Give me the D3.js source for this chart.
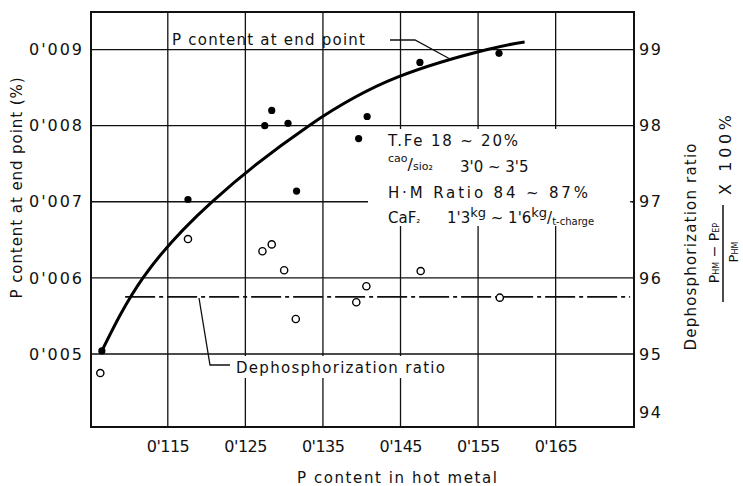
<!DOCTYPE html>
<html><head><meta charset="utf-8">
<script src="https://cdn.jsdelivr.net/npm/d3@7"></script>
<style>body{margin:0;background:#fff} svg{display:block}</style>
</head><body><svg id="c" width="743" height="486"></svg>
<script>
const xTicks = [0.115,0.125,0.135,0.145,0.155,0.165];
const xTickLabels = ["0'115","0'125","0'135","0'145","0'155","0'165"];
const yLeftTicks = [0.005,0.006,0.007,0.008,0.009];
const yLeftTickLabels = ["0'005","0'006","0'007","0'008","0'009"];
const yRightTicks = [94,95,96,97,98,99];
const yRightTickLabels = ["94","95","96","97","98","99"];

const endPointX = [0.1065,0.1176,0.1275,0.1284,0.1305,0.1316,0.1396,0.1407,0.1475,0.1577];
const endPointP = [0.00504,0.00703,0.00800,0.00820,0.00803,0.00714,0.00783,0.00812,0.00883,0.00895];
const dephosX = [0.1063,0.1176,0.1272,0.1284,0.1300,0.1315,0.1393,0.1406,0.1476,0.1578];
const dephosRatio = [94.75,96.51,96.35,96.44,96.10,95.46,95.68,95.89,96.09,95.74];
const curveX = [0.1065,0.1118,0.1207,0.1332,0.1447,0.1562,0.1610];
const curveP = [0.00504,0.00600,0.00700,0.00800,0.00864,0.00900,0.00910];
const avgRatioX = [0.1095,0.1746];
const avgRatio = [95.75,95.75];

const FONT = "DejaVu Sans, sans-serif";
const svg = d3.select("#c");
const m = {l:91, t:12, r:634, b:427};
const x = d3.scaleLinear().domain([0.1051,0.1751]).range([m.l,m.r]);
const yL = d3.scaleLinear().domain([0.004041,0.009493]).range([m.b,m.t]);
const yR = d3.scaleLinear().domain([94.041,99.493]).range([m.b,m.t]);

const grid = svg.append("g").attr("stroke","#111").attr("stroke-width",1.3);
grid.selectAll("line.h").data(yLeftTicks).join("line")
  .attr("x1",m.l).attr("x2",m.r).attr("y1",d=>yL(d)).attr("y2",d=>yL(d));
grid.selectAll("line.v").data(xTicks).join("line")
  .attr("y1",m.t).attr("y2",m.b).attr("x1",d=>x(d)).attr("x2",d=>x(d));

// white areas behind annotations
svg.append("rect").attr("x",368).attr("y",129).attr("width",264).attr("height",97).attr("fill","#fff");
svg.append("rect").attr("x",232).attr("y",356).attr("width",218).attr("height",22).attr("fill","#fff");

// short right tick at 97
svg.append("line").attr("x1",m.r-4).attr("x2",m.r).attr("y1",yR(97)).attr("y2",yR(97)).attr("stroke","#111").attr("stroke-width",1.3);

// frame
svg.append("rect").attr("x",m.l).attr("y",m.t).attr("width",m.r-m.l).attr("height",m.b-m.t)
  .attr("fill","none").attr("stroke","#111").attr("stroke-width",2);

// axes (labels only)
const ax = svg.append("g").attr("transform",`translate(0,${m.b})`)
  .call(d3.axisBottom(x).tickValues(xTicks).tickSize(0).tickPadding(14).tickFormat((d,i)=>xTickLabels[i]));
const al = svg.append("g").attr("transform",`translate(${m.l},0)`)
  .call(d3.axisLeft(yL).tickValues(yLeftTicks).tickSize(0).tickPadding(9).tickFormat((d,i)=>yLeftTickLabels[i]));
const ar = svg.append("g").attr("transform",`translate(${m.r},0)`)
  .call(d3.axisRight(yR).tickValues(yRightTicks).tickSize(0).tickPadding(5).tickFormat((d,i)=>yRightTickLabels[i]));
[ax,al,ar].forEach(g=>{g.select(".domain").remove(); g.selectAll("text").attr("font-family",FONT).attr("font-size",16).attr("fill","#111");});
ax.selectAll("text").attr("textLength",43).attr("lengthAdjust","spacing");
al.selectAll("text").attr("textLength",53).attr("lengthAdjust","spacing");
ar.selectAll("text").attr("textLength",22).attr("lengthAdjust","spacing");
ar.selectAll(".tick").filter(d=>d===94).select("text").attr("dy","-0.8em");

// dash-dot average line
svg.append("path")
  .attr("d", d3.line().x(d=>x(d[0])).y(d=>yR(d[1]))(avgRatioX.map((v,i)=>[v,avgRatio[i]])))
  .attr("stroke","#111").attr("stroke-width",1.8).attr("fill","none").attr("stroke-dasharray","30,4,4,4");

// curve
svg.append("path")
  .attr("d", d3.line().x(d=>x(d[0])).y(d=>yL(d[1])).curve(d3.curveNatural)(curveX.map((v,i)=>[v,curveP[i]])))
  .attr("stroke","#000").attr("stroke-width",3).attr("fill","none");

// points
svg.selectAll("circle.f").data(endPointX).join("circle")
  .attr("cx",d=>x(d)).attr("cy",(d,i)=>yL(endPointP[i])).attr("r",3.6).attr("fill","#000");
svg.selectAll("circle.o").data(dephosX).join("circle")
  .attr("cx",d=>x(d)).attr("cy",(d,i)=>yR(dephosRatio[i])).attr("r",3.6)
  .attr("fill","#fff").attr("stroke","#000").attr("stroke-width",1.4);

// leader lines
const lead = d3.line();
svg.append("path").attr("d",lead([[390,40],[415,40],[450,59]])).attr("stroke","#111").attr("stroke-width",1.3).attr("fill","none");
svg.append("path").attr("d",lead([[199,298],[210,365],[230,365]])).attr("stroke","#111").attr("stroke-width",1.3).attr("fill","none");

const T = (xx,yy,s,size)=>svg.append("text").attr("x",xx).attr("y",yy).attr("font-family",FONT)
  .attr("font-size",size||15).attr("fill","#111").text(s);

T(172,45,"P content at end point",15).attr("textLength",193);
T(236,373,"Dephosphorization  ratio",15).attr("textLength",209);

// conditions block
T(388,146,"T.Fe  18 ~ 20%",15).attr("textLength",130);
const l2 = svg.append("text").attr("x",388).attr("y",172).attr("font-family",FONT).attr("fill","#111");
l2.append("tspan").attr("font-size",11).attr("dy",-10).text("cao");
l2.append("tspan").attr("font-size",16).attr("dy",8).text("/");
l2.append("tspan").attr("font-size",11).attr("dy",0).text("sio₂");
l2.append("tspan").attr("font-size",15).attr("x",460).attr("dy",2).text("3'0 ~ 3'5");
T(388,198,"H·M  Ratio  84 ~ 87%",15).attr("textLength",200);
const l4 = svg.append("text").attr("x",388).attr("y",223).attr("font-family",FONT).attr("fill","#111").attr("font-size",15);
l4.append("tspan").text("CaF");
l4.append("tspan").attr("font-size",10).text("₂");
l4.append("tspan").attr("x",447).text("1'3");
l4.append("tspan").attr("font-size",13).attr("dy",-6).text("kg");
l4.append("tspan").attr("dy",6).text(" ~ 1'6");
l4.append("tspan").attr("font-size",13).attr("dy",-6).text("kg");
l4.append("tspan").attr("dy",6).text("/");
l4.append("tspan").attr("font-size",10).attr("dy",2).text("t-charge");

// axis titles
T(397,483,"P  content  in  hot  metal",15).attr("text-anchor","middle").attr("textLength",200);
T(0,0,"P content at end point  (%)",15).attr("text-anchor","middle")
  .attr("transform","translate(22,188) rotate(-90)").attr("textLength",221);
T(0,0,"Dephosphorization  ratio",15).attr("text-anchor","middle")
  .attr("transform","translate(696,247) rotate(-90)").attr("textLength",207);
// fraction
const num = svg.append("text").attr("text-anchor","middle").attr("font-family",FONT).attr("fill","#111").attr("font-size",14)
  .attr("transform","translate(719,253) rotate(-90)");
num.append("tspan").text("P");
num.append("tspan").attr("font-size",8).text("HM");
num.append("tspan").text(" − P");
num.append("tspan").attr("font-size",8).text("EP");
svg.append("line").attr("x1",723).attr("x2",723).attr("y1",205).attr("y2",302).attr("stroke","#111").attr("stroke-width",1.5);
const den = svg.append("text").attr("text-anchor","middle").attr("font-family",FONT).attr("fill","#111").attr("font-size",13)
  .attr("transform","translate(738,252) rotate(-90)");
den.append("tspan").text("P");
den.append("tspan").attr("font-size",8).text("HM");
T(0,0,"X 100%",16).attr("text-anchor","middle").attr("transform","translate(731,155) rotate(-90)").attr("textLength",80);
</script></body></html>
